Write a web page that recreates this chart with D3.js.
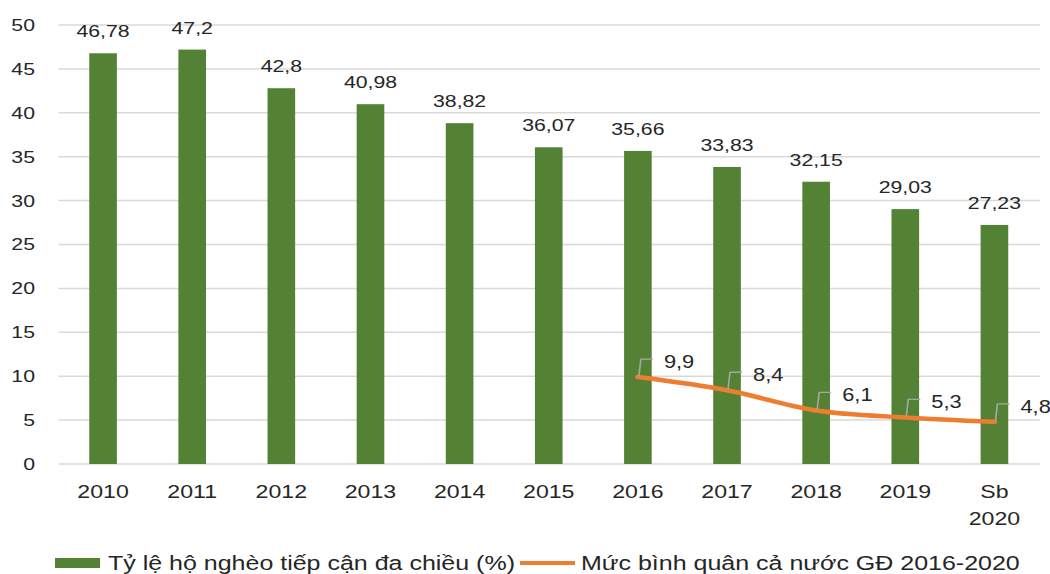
<!DOCTYPE html>
<html><head><meta charset="utf-8">
<script src="https://cdn.jsdelivr.net/npm/d3@7"></script>
<style>body{margin:0;background:#fff}svg{display:block}text{font-family:"Liberation Sans",Arial,sans-serif;fill:#262626}</style>
</head><body><svg id="c" width="1050" height="574"></svg>
<script>
const categories = ["2010","2011","2012","2013","2014","2015","2016","2017","2018","2019","Sb 2020"];
const povertyRate = [46.78,47.2,42.8,40.98,38.82,36.07,35.66,33.83,32.15,29.03,27.23];
const povertyLabels = ["46,78","47,2","42,8","40,98","38,82","36,07","35,66","33,83","32,15","29,03","27,23"];
const lineCategories = ["2016","2017","2018","2019","Sb 2020"];
const nationalAvg = [9.9,8.4,6.1,5.3,4.8];
const lineLabels = ["9,9","8,4","6,1","5,3","4,8"];
const yTicks = [0,5,10,15,20,25,30,35,40,45,50];
const legendNames = ["Tỷ lệ hộ nghèo tiếp cận đa chiều (%)","Mức bình quân cả nước GĐ 2016-2020"];

const SX = 1.25;
const svg = d3.select("#c");
const g = svg.append("g").attr("transform",`scale(${SX},1)`);
const x = d3.scaleBand().domain(categories).range([58.5/SX, 1039/SX]).paddingInner(0.69).paddingOuter(0.345);
const y = d3.scaleLinear().domain([0,50]).range([464,25]);
const green = "#548235", orange = "#ED7D31";

// grid
g.append("g").selectAll("line").data(yTicks).join("line")
  .attr("x1",58.5/SX).attr("x2",1040/SX).attr("y1",d=>y(d)).attr("y2",d=>y(d))
  .attr("stroke","#d9d9d9").attr("stroke-width",1.5);
// y labels
g.append("g").selectAll("text").data(yTicks).join("text")
  .attr("x",35/SX).attr("y",d=>y(d)+6).attr("text-anchor","end").attr("font-size",17).text(d=>d);
// bars
g.append("g").selectAll("rect").data(povertyRate).join("rect")
  .attr("x",(d,i)=>x(categories[i])).attr("width",x.bandwidth())
  .attr("y",d=>y(d)).attr("height",d=>y(0)-y(d)).attr("fill",green);
// bar labels
g.append("g").selectAll("text").data(povertyRate).join("text")
  .attr("x",(d,i)=>x(categories[i])+x.bandwidth()/2).attr("y",d=>y(d)-16)
  .attr("text-anchor","middle").attr("font-size",17).text((d,i)=>povertyLabels[i]);
// x labels
const xl = g.append("g").selectAll("text").data(categories).join("text")
  .attr("x",d=>x(d)+x.bandwidth()/2).attr("y",498).attr("text-anchor","middle").attr("font-size",18.5);
xl.each(function(d){
  const parts = d.split(" ");
  const t = d3.select(this);
  parts.forEach((p,k)=>t.append("tspan").attr("x",x(d)+x.bandwidth()/2).attr("dy",k?27:0).text(p));
});
// line
const lx = d=>x(d)+x.bandwidth()/2;
const pts = nationalAvg.map((v,i)=>[lx(lineCategories[i]), y(v)]);
g.append("path").datum(pts).attr("d",d3.line().curve(d3.curveMonotoneX))
  .attr("fill","none").attr("stroke",orange).attr("stroke-width",4.5).attr("stroke-linecap","round");
// callouts
const cg = g.append("g");
pts.forEach((p,i)=>{
  const top = p[1]-18;
  cg.append("path").attr("d",`M${p[0]+1/SX},${p[1]-1}L${p[0]+3/SX},${top}L${p[0]+15/SX},${top}`)
    .attr("fill","none").attr("stroke","#a6a6a6").attr("stroke-width",1.3);
  cg.append("text").attr("x",p[0]+26/SX).attr("y",top+9).attr("font-size",17.5).text(lineLabels[i]);
});
// legend
const ly = 563;
g.append("rect").attr("x",55/SX).attr("y",ly-5).attr("width",45/SX).attr("height",10).attr("fill",green);
g.append("text").attr("x",108/SX).attr("y",ly+7).attr("font-size",20).text(legendNames[0]);
g.append("line").attr("x1",520/SX).attr("x2",575/SX).attr("y1",ly).attr("y2",ly).attr("stroke",orange).attr("stroke-width",4);
g.append("text").attr("x",581/SX).attr("y",ly+7).attr("font-size",20).text(legendNames[1]);
</script></body></html>
